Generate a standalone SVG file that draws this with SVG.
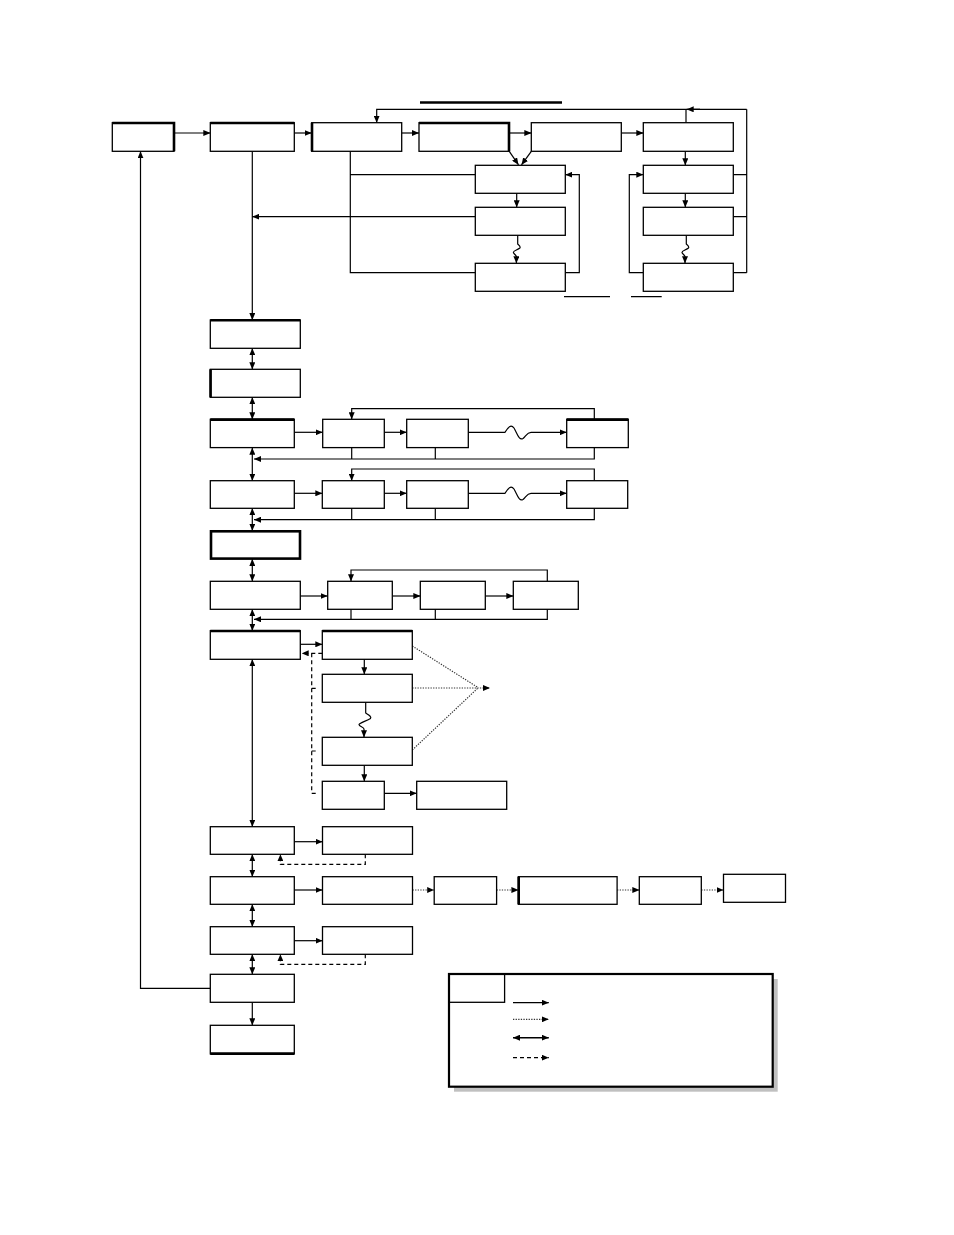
<svg xmlns="http://www.w3.org/2000/svg" width="954" height="1235" viewBox="0 0 954 1235">
<style>
.b{fill:#fff;stroke:#000;stroke-width:1.3}
.tk{fill:none;stroke:#000;stroke-width:2.6}
.c{fill:none;stroke:#000;stroke-width:1.2}
.a{marker-end:url(#ah)}
.d2{marker-start:url(#ah);marker-end:url(#ah)}
.dot{stroke-dasharray:1.3 1.3;stroke:#333}
.dsh{stroke-dasharray:4 3}
</style>
<defs>
<marker id="ah" markerUnits="userSpaceOnUse" markerWidth="7" markerHeight="6" viewBox="0 0 7 6" refX="7" refY="3" orient="auto-start-reverse"><path d="M0,0 L7,3 L0,6 z" fill="#000"/></marker>
</defs>
<rect width="954" height="1235" fill="#fff"/>

<g id="decor">
<path d="M420,102.5 H562" class="tk"/>
<path d="M564,296.7 H610 M631,296.7 H661.7" class="c"/>
</g>

<g id="connectors">
<path class="c a" d="M174,133 H210.3"/>
<path class="c a" d="M294.3,133 H311.7"/>
<path class="c a" d="M401.7,133 H419"/>
<path class="c a" d="M509.3,133 H531.3"/>
<path class="c a" d="M621.3,133 H643.3"/>
<path class="c a" d="M509.3,151.3 L518.5,164.8"/>
<path class="c a" d="M531.3,151.3 L521.5,164.8"/>
<path class="c a" d="M746.7,109.3 H376.7 V122.7"/>
<path class="c a" d="M700,109.3 H686.7"/>
<path class="c" d="M686,109.3 V122.7"/>
<path class="c" d="M733.3,174.7 H746.7 M733.3,216.7 H746.7 M733.3,272.7 H746.7 M746.7,109.3 V272.7"/>
<path class="c a" d="M685.3,151.3 V165.3"/>
<path class="c a" d="M685.3,193.3 V207.3"/>
<path class="c a" d="M686.3,235.3 V244 C688,245.5 689.5,246.5 688.5,248 C686,250 681.5,251 682,252.5 C682.5,254 684.5,255 685,256.5 V263.3"/>
<path class="c a" d="M643.3,272.7 H629.3 V174.7 H643.3"/>
<path class="c a" d="M516.7,193.3 V207.3"/>
<path class="c a" d="M517.7,235.3 V244 C519.4,245.5 520.9,246.5 519.9,248 C517.4,250 512.9,251 513.4,252.5 C513.9,254 515.9,255 516.4,256.5 V263.3"/>
<path class="c a" d="M565.3,272.7 H579.3 V174.7 H565.3"/>
<path class="c" d="M350.3,151.3 V272.7 H475.3 M350.3,174.7 H475.3"/>
<path class="c a" d="M475.3,216.7 H252.3"/>
<path class="c a" d="M252.3,151.3 V320"/>
<path class="c a" d="M210.3,988.3 H140.5 V151.3"/>

<path class="c d2" d="M252.3,348.3 V369.3"/>
<path class="c d2" d="M252.3,397.3 V419.3"/>
<path class="c d2" d="M252.3,447.7 V480.7"/>
<path class="c d2" d="M252.3,508.3 V530.7"/>
<path class="c d2" d="M252.3,559 V581.3"/>
<path class="c d2" d="M252.3,609.3 V630.7"/>
<path class="c d2" d="M252.3,659.3 V826.7"/>
<path class="c d2" d="M252.3,854.3 V876.7"/>
<path class="c d2" d="M252.3,904.3 V926.7"/>
<path class="c d2" d="M252.3,954.3 V974.3"/>
<path class="c a" d="M252.3,1002.3 V1025.3"/>

<path class="c a" d="M294.3,432.3 H322.7"/>
<path class="c a" d="M384.3,432.3 H406.7"/>
<path class="c a" d="M468.3,432.3 H505 C508,427 511,424 514,428 C517,433 519,441 523,438.5 C526,436 527,432.3 531,432.3 H566.7"/>
<path class="c a" d="M594.3,419.3 V408.7 H351.7 V419.3"/>
<path class="c a" d="M351.7,447.7 V459 M435.3,447.7 V459 M594.3,447.7 V459 H254"/>

<path class="c a" d="M294.3,493.3 H322.3"/>
<path class="c a" d="M384.3,493.3 H406.7"/>
<path class="c a" d="M468.3,493.3 H505 C508,488 511,485 514,489 C517,494 519,502 523,499.5 C526,497 527,493.3 531,493.3 H566.7"/>
<path class="c a" d="M594.3,480.7 V469 H351.7 V480.7"/>
<path class="c a" d="M351.7,508.3 V519.7 M435.3,508.3 V519.7 M594.3,508.3 V519.7 H254"/>

<path class="c a" d="M300.3,596 H327.7"/>
<path class="c a" d="M392.3,596 H420.3"/>
<path class="c a" d="M485.3,596 H513.3"/>
<path class="c a" d="M547.3,581.3 V570 H351 V581.3"/>
<path class="c a" d="M351,609.3 V619.3 M435.3,609.3 V619.3 M547.3,609.3 V619.3 H254"/>

<path class="c a" d="M300.3,644.3 H322.3"/>
<path class="c dsh a" d="M322.3,653.3 H301.7"/>
<path class="c dsh" d="M311.7,653.3 V793.3 M311.7,688.3 H318 M311.7,751 H318 M311.7,793.3 H318"/>
<path class="c a" d="M364.3,659.3 V674.3"/>
<path class="c a" d="M365.7,702.3 V713 C368,714.5 372,716.5 370.5,718.5 C367,721 360,722.5 359,724.5 C359,726.5 364,727 364,729 V737.3"/>
<path class="c a" d="M364.3,765.3 V781.3"/>
<path class="c a" d="M384.3,793.3 H416.7"/>
<path class="c dot" d="M412.3,646 L478.3,687.7 M412.3,750 L478.3,687.7"/>
<path class="c dot a" d="M412.3,688 H490"/>

<path class="c a" d="M294.3,841.7 H322.5"/>
<path class="c dsh a" d="M365.3,854.3 V864.3 H280.4 V854.3"/>
<path class="c a" d="M294.3,890 H322.5"/>
<path class="c dot a" d="M412.5,890 H434.2"/>
<path class="c dot a" d="M496.6,890 H518.4"/>
<path class="c dot a" d="M617.1,890 H639.3"/>
<path class="c dot a" d="M701.3,890 H723.5"/>
<path class="c a" d="M294.3,940.7 H322.5"/>
<path class="c dsh a" d="M365.3,954.3 V964.3 H280.4 V954.3"/>
</g>

<g id="A"><rect class="b" x="112.3" y="122.7" width="61.7" height="28.6"/><path class="tk" d="M112.3,123 H174 V151.3"/></g>
<g id="B"><rect class="b" x="210.3" y="122.7" width="84" height="28.6"/><path class="tk" d="M210.3,123 H294.3"/></g>
<g id="C"><rect class="b" x="311.7" y="122.7" width="90" height="28.6"/><path class="tk" d="M312,122.7 V151.3"/></g>
<g id="D"><rect class="b" x="419" y="122.7" width="90.3" height="28.6"/><path class="tk" d="M419,123 H509 V151.3"/></g>
<g id="E"><rect class="b" x="531.3" y="122.7" width="90" height="28.6"/></g>
<g id="F"><rect class="b" x="643.3" y="122.7" width="90" height="28.6"/></g>
<g id="G"><rect class="b" x="475.3" y="165.3" width="90" height="28"/></g>
<g id="H"><rect class="b" x="475.3" y="207.3" width="90" height="28"/></g>
<g id="I"><rect class="b" x="475.3" y="263.3" width="90" height="28"/></g>
<g id="J"><rect class="b" x="643.3" y="165.3" width="90" height="28"/></g>
<g id="K"><rect class="b" x="643.3" y="207.3" width="90" height="28"/></g>
<g id="L"><rect class="b" x="643.3" y="263.3" width="90" height="28"/></g>

<g id="M1"><rect class="b" x="210.3" y="320" width="90" height="28.3"/><path class="tk" d="M210.3,320.3 H300.3"/></g>
<g id="M2"><rect class="b" x="210.3" y="369.3" width="90" height="28"/><path class="tk" d="M210.6,369.3 V397.3"/></g>
<g id="M3"><rect class="b" x="210.3" y="419.3" width="84" height="28.3"/><path class="tk" d="M210.3,419.6 H294.3"/></g>
<g id="N1"><rect class="b" x="322.7" y="419.3" width="61.6" height="28.3"/></g>
<g id="N2"><rect class="b" x="406.7" y="419.3" width="61.6" height="28.3"/></g>
<g id="N3"><rect class="b" x="566.7" y="419.3" width="61.6" height="28.3"/><path class="tk" d="M566.7,419.6 H628.3"/></g>
<g id="M4"><rect class="b" x="210.3" y="480.7" width="84" height="27.6"/></g>
<g id="N4"><rect class="b" x="322.3" y="480.7" width="62" height="27.6"/></g>
<g id="N5"><rect class="b" x="406.7" y="480.7" width="61.6" height="27.6"/></g>
<g id="N6"><rect class="b" x="566.7" y="480.7" width="61" height="27.6"/></g>
<g id="M5"><rect class="b" x="211" y="531.3" width="89" height="27.3" style="stroke-width:2.6"/></g>
<g id="M6"><rect class="b" x="210.3" y="581.3" width="90" height="28"/></g>
<g id="P1"><rect class="b" x="327.7" y="581.3" width="64.6" height="28"/></g>
<g id="P2"><rect class="b" x="420.3" y="581.3" width="65" height="28"/></g>
<g id="P3"><rect class="b" x="513.3" y="581.3" width="65" height="28"/></g>
<g id="M7"><rect class="b" x="210.3" y="630.7" width="90" height="28.6"/><path class="tk" d="M210.3,631 H300.3"/></g>
<g id="Q1"><rect class="b" x="322.3" y="630.7" width="90" height="28.6"/><path class="tk" d="M322.3,631 H412.3"/></g>
<g id="Q2"><rect class="b" x="322.3" y="674.3" width="90" height="28"/></g>
<g id="Q3"><rect class="b" x="322.3" y="737.3" width="90" height="28"/></g>
<g id="Q4"><rect class="b" x="322.3" y="781.3" width="62" height="28"/></g>
<g id="Q5"><rect class="b" x="416.7" y="781.3" width="90" height="28"/></g>
<g id="M8"><rect class="b" x="210.3" y="826.7" width="84" height="27.6"/></g>
<g id="R1"><rect class="b" x="322.5" y="826.7" width="90" height="27.6"/></g>
<g id="M9"><rect class="b" x="210.3" y="876.7" width="84" height="27.6"/></g>
<g id="R2"><rect class="b" x="322.5" y="876.7" width="90" height="27.6"/></g>
<g id="S1"><rect class="b" x="434.2" y="876.7" width="62.4" height="27.6"/></g>
<g id="S2"><rect class="b" x="518.4" y="876.7" width="98.7" height="27.6"/><path class="tk" d="M518.7,876.7 V904.3"/></g>
<g id="S3"><rect class="b" x="639.3" y="876.7" width="62" height="27.6"/></g>
<g id="S4"><rect class="b" x="723.5" y="874.3" width="62" height="28"/></g>
<g id="M10"><rect class="b" x="210.3" y="926.7" width="84" height="27.6"/></g>
<g id="R3"><rect class="b" x="322.5" y="926.7" width="90" height="27.6"/></g>
<g id="M11"><rect class="b" x="210.3" y="974.3" width="84" height="28"/></g>
<g id="M12"><rect class="b" x="210.3" y="1025.3" width="84" height="28.6"/><path class="tk" d="M210.3,1053.6 H294.3"/></g>

<g id="legend">
<rect x="454" y="979" width="323.7" height="112.7" fill="#c0c0c0"/>
<rect x="449" y="974" width="323.7" height="112.7" fill="#fff" stroke="#000" stroke-width="2.2"/>
<rect x="449" y="974" width="55.6" height="28.3" fill="none" stroke="#000" stroke-width="1.3"/>
<path class="c a" d="M513,1002.7 H548.8"/>
<path class="c dot a" d="M513,1019.3 H548.8"/>
<path class="c d2" d="M513,1037.7 H548.8" style="stroke-width:1.6"/>
<path class="c dsh a" d="M513,1057.7 H548.8"/>
</g>
</svg>
